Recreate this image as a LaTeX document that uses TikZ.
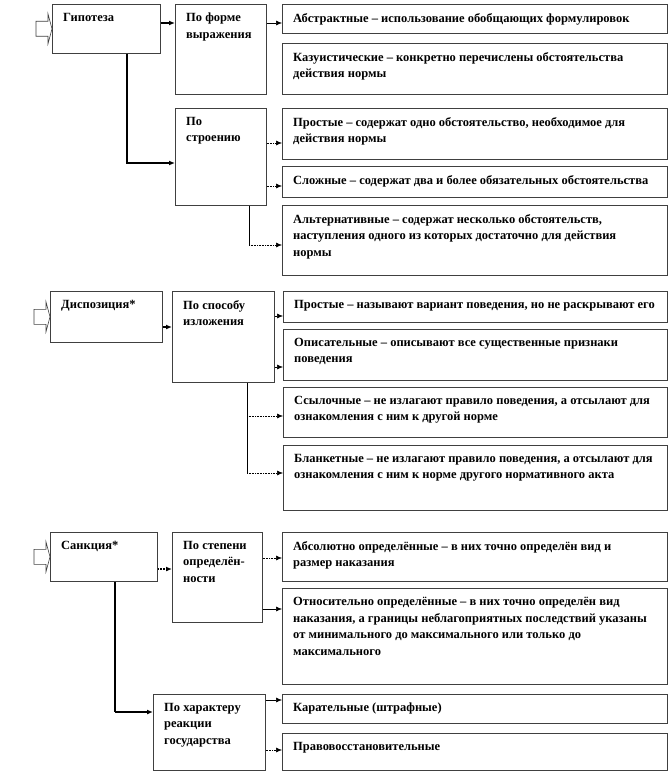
\documentclass[tikz,border=0pt]{standalone}
\usepackage{fontspec}
\setmainfont{Liberation Serif}
\usetikzlibrary{arrows.meta, positioning}

\begin{document}
\begin{tikzpicture}[x=1pt, y=-1pt,
    box/.style={draw=black!75, line width=0.6pt, anchor=north west, inner sep=0pt},
    txt/.style={anchor=north west, inner xsep=11pt, inner ysep=9pt, align=left,
                font=\bfseries\fontsize{12.5}{16.5}\selectfont},
    link/.style={-{Latex[length=6pt, width=5pt]}, line width=0.6pt},
    dotlink/.style={link, densely dotted},
    heavy/.style={line width=2.4pt},
    inlet/.style={draw=black!75, fill=white, line width=0.6pt}
  ]
  \useasboundingbox (0,0) rectangle (669,776);

  % --- Гипотеза ---
  \node[box, minimum width=108, minimum height=49] (hyp) at (52,4) {};
  \node[txt] (hyp-t) at (hyp.north west) {Гипотеза};
  \node[box, minimum width=91, minimum height=90] (form) at (175,4) {};
  \node[txt] (form-t) at (form.north west) {По форме\\выражения};
  \node[box, minimum width=385, minimum height=29] (abs) at (282,4) {};
  \node[txt] (abs-t) at (abs.north west) {Абстрактные – использование обобщающих формулировок};
  \node[box, minimum width=385, minimum height=51] (kaz) at (282,43) {};
  \node[txt] (kaz-t) at (kaz.north west) {Казуистические – конкретно перечислены обстоятельства\\действия нормы};
  \node[box, minimum width=91, minimum height=97] (str) at (175,108) {};
  \node[txt] (str-t) at (str.north west) {По\\строению};
  \node[box, minimum width=385, minimum height=51] (prost1) at (282,108) {};
  \node[txt] (prost1-t) at (prost1.north west) {Простые – содержат одно обстоятельство, необходимое для\\действия нормы};
  \node[box, minimum width=385, minimum height=31] (slozh) at (282,166) {};
  \node[txt] (slozh-t) at (slozh.north west) {Сложные – содержат два и более обязательных обстоятельства};
  \node[box, minimum width=385, minimum height=70] (alt) at (282,205) {};
  \node[txt] (alt-t) at (alt.north west) {Альтернативные – содержат несколько обстоятельств,\\наступления одного из которых достаточно для действия\\нормы};

  \draw[inlet, shift={(hyp.west)}] (0,0) -- (-4,-15) -- (-4,-7.5) -- (-16,-7.5)
    -- (-16,7.5) -- (-4,7.5) -- (-4,15) -- cycle;
  \draw[link, heavy] ([yshift=-19pt]hyp.north east) -- ([yshift=-19pt]form.north west);
  \draw[link] ([yshift=-19pt]form.north east) -- ([yshift=-19pt]abs.north west);
  \draw[link, heavy] ([xshift=75pt]hyp.south west) |- ([yshift=-55pt]str.north west);
  \draw[dotlink] ([yshift=-35pt]str.north east) -- ([yshift=-35pt]prost1.north west);
  \draw[dotlink] ([yshift=-78pt]str.north east) -- ([yshift=-20pt]slozh.north west);
  \draw[line width=0.6pt] ([xshift=74pt]str.south west) -- ([xshift=-33pt, yshift=-40pt]alt.north west) coordinate (k1);
  \draw[dotlink] (k1) -- ([yshift=-40pt]alt.north west);

  % --- Диспозиция ---
  \node[box, minimum width=112, minimum height=51] (disp) at (50,291) {};
  \node[txt] (disp-t) at (disp.north west) {Диспозиция*};
  \node[box, minimum width=102, minimum height=91] (spos) at (172,291) {};
  \node[txt] (spos-t) at (spos.north west) {По способу\\изложения};
  \node[box, minimum width=384, minimum height=31] (prost2) at (283,291) {};
  \node[txt] (prost2-t) at (prost2.north west) {Простые – называют вариант поведения, но не раскрывают его};
  \node[box, minimum width=384, minimum height=51] (opis) at (283,329) {};
  \node[txt] (opis-t) at (opis.north west) {Описательные – описывают все существенные признаки\\поведения};
  \node[box, minimum width=384, minimum height=50] (ssyl) at (283,387) {};
  \node[txt] (ssyl-t) at (ssyl.north west) {Ссылочные – не излагают правило поведения, а отсылают для\\ознакомления с ним к другой норме};
  \node[box, minimum width=384, minimum height=65] (blank) at (283,445) {};
  \node[txt] (blank-t) at (blank.north west) {Бланкетные – не излагают правило поведения, а отсылают для\\ознакомления с ним к норме другого нормативного акта};

  \draw[inlet, shift={(disp.west)}] (0,0) -- (-4,-15) -- (-4,-7.5) -- (-16,-7.5)
    -- (-16,7.5) -- (-4,7.5) -- (-4,15) -- cycle;
  \draw[link, line width=1.4pt] ([yshift=-36pt]disp.north east) -- ([yshift=-36pt]spos.north west);
  \draw[link] ([yshift=-25pt]spos.north east) -- ([yshift=-25pt]prost2.north west);
  \draw[link] ([yshift=-76pt]spos.north east) -- ([yshift=-38pt]opis.north west);
  \draw[line width=0.6pt] ([xshift=75pt]spos.south west) -- ([xshift=-36pt, yshift=-28pt]blank.north west) coordinate (k2);
  \draw[dotlink] ([xshift=-36pt, yshift=-29pt]ssyl.north west) -- ([yshift=-29pt]ssyl.north west);
  \draw[dotlink] (k2) -- ([yshift=-28pt]blank.north west);

  % --- Санкция ---
  \node[box, minimum width=107, minimum height=49] (sanc) at (50,532) {};
  \node[txt] (sanc-t) at (sanc.north west) {Санкция*};
  \node[box, minimum width=90, minimum height=90] (step) at (172,532) {};
  \node[txt] (step-t) at (step.north west) {По степени\\определён-\\ности};
  \node[box, minimum width=385, minimum height=49] (absol) at (282,532) {};
  \node[txt] (absol-t) at (absol.north west) {Абсолютно определённые – в них точно определён вид и\\размер наказания};
  \node[box, minimum width=385, minimum height=96] (otnos) at (282,588) {};
  \node[txt] (otnos-t) at (otnos.north west) {Относительно определённые – в них точно определён вид\\наказания, а границы неблагоприятных последствий указаны\\от минимального до максимального или только до\\максимального};
  \node[box, minimum width=112, minimum height=76] (har) at (153,694) {};
  \node[txt] (har-t) at (har.north west) {По характеру\\реакции\\государства};
  \node[box, minimum width=385, minimum height=29] (karat) at (282,694) {};
  \node[txt] (karat-t) at (karat.north west) {Карательные (штрафные)};
  \node[box, minimum width=385, minimum height=37] (pravo) at (282,733) {};
  \node[txt] (pravo-t) at (pravo.north west) {Правовосстановительные};

  \draw[inlet, shift={(sanc.west)}] (0,0) -- (-4,-15) -- (-4,-7.5) -- (-16,-7.5)
    -- (-16,7.5) -- (-4,7.5) -- (-4,15) -- cycle;
  \draw[link, line width=1.8pt, densely dotted] ([yshift=-37pt]sanc.north east) -- ([yshift=-37pt]step.north west);
  \draw[dotlink] ([yshift=-26pt]step.north east) -- ([yshift=-26pt]absol.north west);
  \draw[link] ([yshift=-77pt]step.north east) -- ([yshift=-21pt]otnos.north west);
  \draw[heavy] ([xshift=65pt]sanc.south west) -- ([xshift=-38pt, yshift=-18pt]har.north west) coordinate (k3);
  \draw[link, heavy] (k3) -- ([yshift=-18pt]har.north west);
  \draw[link] ([yshift=-6pt]har.north east) -- ([yshift=-6pt]karat.north west);
  \draw[dotlink] ([yshift=-56pt]har.north east) -- ([yshift=-17pt]pravo.north west);
\end{tikzpicture}
\end{document}
